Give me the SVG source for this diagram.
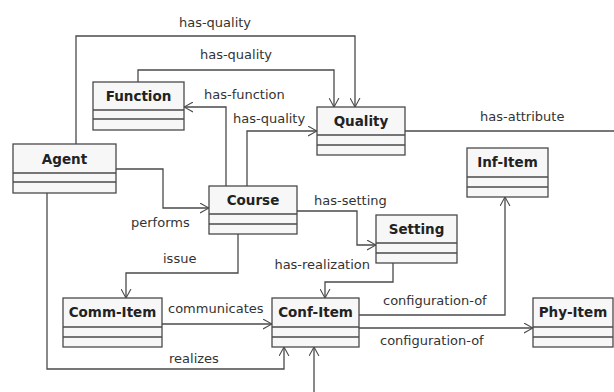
<svg xmlns="http://www.w3.org/2000/svg" width="614" height="392" viewBox="0 0 614 392">
  <style>
    .box { fill: #f7f7f7; stroke: #4a4a4a; stroke-width: 1.3; }
    .sep { stroke: #4a4a4a; stroke-width: 1.3; }
    .title { font-family: "DejaVu Sans", sans-serif; font-weight: bold; font-size: 13.5px; fill: #222; text-anchor: middle; }
    .lbl { font-family: "DejaVu Sans", sans-serif; font-size: 13px; fill: #333; }
    .edge { fill: none; stroke: #4a4a4a; stroke-width: 1.3; }
    .arr { marker-end: url(#open); }
  </style>
  <defs>
    <marker id="open" viewBox="0 0 10 12" refX="10" refY="6" markerWidth="9" markerHeight="11" markerUnits="userSpaceOnUse" orient="auto">
      <path d="M0,0.5 L10,6 L0,11.5" fill="none" stroke="#4a4a4a" stroke-width="1.2"/>
    </marker>
  </defs>
  <rect width="614" height="392" fill="#ffffff"/>

  <g id="connectors">
    <!-- Agent has-quality Quality -->
    <path class="edge arr" d="M76,144 V36 H355 V107"/>
    <text class="lbl" x="215" y="27" text-anchor="middle">has-quality</text>
    <!-- Function has-quality Quality -->
    <path class="edge arr" d="M138,82 V70 H334 V107"/>
    <text class="lbl" x="236" y="59" text-anchor="middle">has-quality</text>
    <!-- Course has-function Function -->
    <path class="edge arr" d="M226,186 V107 H184"/>
    <text class="lbl" x="204" y="99">has-function</text>
    <!-- Course has-quality Quality -->
    <path class="edge arr" d="M247,186 V131 H317"/>
    <text class="lbl" x="233" y="123">has-quality</text>
    <!-- Quality has-attribute -->
    <path class="edge" d="M405,131 H614"/>
    <text class="lbl" x="480" y="121">has-attribute</text>
    <!-- Agent performs Course -->
    <path class="edge arr" d="M116,169 H163 V208 H209"/>
    <text class="lbl" x="131" y="227">performs</text>
    <!-- Agent realizes Conf-Item -->
    <path class="edge arr" d="M47,193 V369 H284 V347"/>
    <text class="lbl" x="169" y="363">realizes</text>
    <!-- Course issue Comm-Item -->
    <path class="edge arr" d="M238,234 V273 H126 V298"/>
    <text class="lbl" x="163" y="263">issue</text>
    <!-- Comm-Item communicates Conf-Item -->
    <path class="edge arr" d="M162,324 H272"/>
    <text class="lbl" x="168" y="313">communicates</text>
    <!-- Course has-setting Setting -->
    <path class="edge arr" d="M297,211 H357 V245 H376"/>
    <text class="lbl" x="314" y="205">has-setting</text>
    <!-- Setting has-realization Conf-Item -->
    <path class="edge arr" d="M393,263 V282 H325 V298"/>
    <text class="lbl" x="370" y="269" text-anchor="end">has-realization</text>
    <!-- Conf-Item configuration-of Inf-Item -->
    <path class="edge arr" d="M359,315 H505 V197"/>
    <text class="lbl" x="383" y="305">configuration-of</text>
    <!-- Conf-Item configuration-of Phy-Item -->
    <path class="edge arr" d="M359,328 H533"/>
    <text class="lbl" x="380" y="345">configuration-of</text>
    <!-- incoming from below -->
    <path class="edge arr" d="M314,392 V347"/>
  </g>

  <g id="function">
    <rect class="box" x="93" y="82" width="91" height="48"/>
    <line class="sep" x1="93" y1="110" x2="184" y2="110"/>
    <line class="sep" x1="93" y1="119" x2="184" y2="119"/>
    <text class="title" x="138.5" y="101">Function</text>
  </g>
  <g id="agent">
    <rect class="box" x="13" y="144" width="103" height="49"/>
    <line class="sep" x1="13" y1="173" x2="116" y2="173"/>
    <line class="sep" x1="13" y1="182" x2="116" y2="182"/>
    <text class="title" x="64.5" y="163.5">Agent</text>
  </g>
  <g id="quality">
    <rect class="box" x="317" y="107" width="88" height="48"/>
    <line class="sep" x1="317" y1="135" x2="405" y2="135"/>
    <line class="sep" x1="317" y1="145" x2="405" y2="145"/>
    <text class="title" x="361" y="126">Quality</text>
  </g>
  <g id="inf-item">
    <rect class="box" x="467" y="148" width="81" height="49"/>
    <line class="sep" x1="467" y1="177" x2="548" y2="177"/>
    <line class="sep" x1="467" y1="187" x2="548" y2="187"/>
    <text class="title" x="507.5" y="167">Inf-Item</text>
  </g>
  <g id="course">
    <rect class="box" x="209" y="186" width="88" height="48"/>
    <line class="sep" x1="209" y1="214" x2="297" y2="214"/>
    <line class="sep" x1="209" y1="224" x2="297" y2="224"/>
    <text class="title" x="253" y="205">Course</text>
  </g>
  <g id="setting">
    <rect class="box" x="376" y="215" width="81" height="48"/>
    <line class="sep" x1="376" y1="243" x2="457" y2="243"/>
    <line class="sep" x1="376" y1="253" x2="457" y2="253"/>
    <text class="title" x="416.5" y="234">Setting</text>
  </g>
  <g id="comm-item">
    <rect class="box" x="63" y="298" width="99" height="49"/>
    <line class="sep" x1="63" y1="327" x2="162" y2="327"/>
    <line class="sep" x1="63" y1="337" x2="162" y2="337"/>
    <text class="title" x="112.5" y="317">Comm-Item</text>
  </g>
  <g id="conf-item">
    <rect class="box" x="272" y="298" width="87" height="49"/>
    <line class="sep" x1="272" y1="327" x2="359" y2="327"/>
    <line class="sep" x1="272" y1="337" x2="359" y2="337"/>
    <text class="title" x="315.5" y="317">Conf-Item</text>
  </g>
  <g id="phy-item">
    <rect class="box" x="533" y="298" width="80" height="49"/>
    <line class="sep" x1="533" y1="327" x2="613" y2="327"/>
    <line class="sep" x1="533" y1="337" x2="613" y2="337"/>
    <text class="title" x="573" y="317">Phy-Item</text>
  </g>
</svg>
